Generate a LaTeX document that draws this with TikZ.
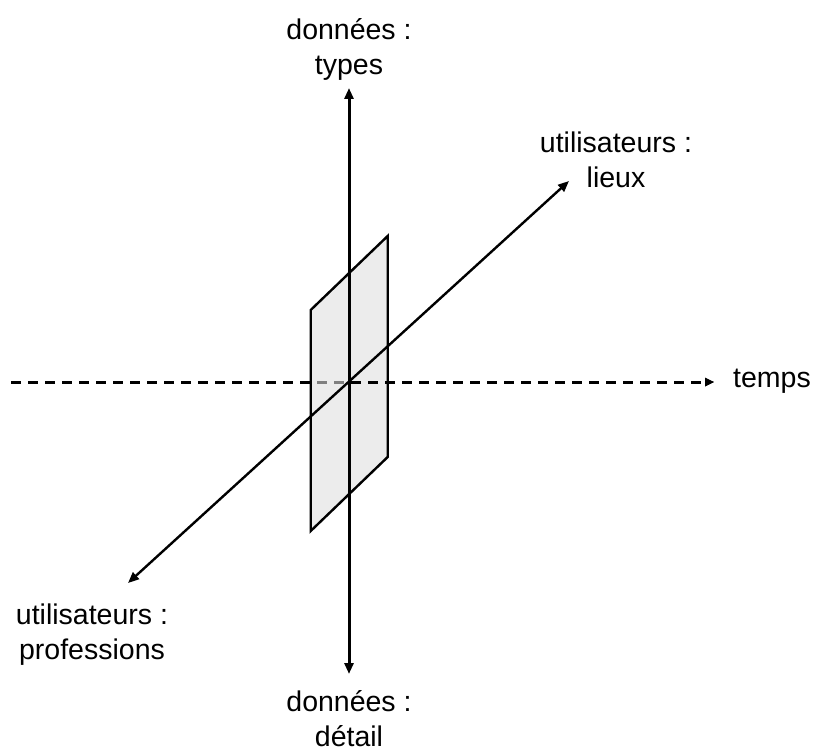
\documentclass[tikz,border=0pt]{standalone}
\usepackage{fontspec}
\setmainfont{Liberation Sans}
\usetikzlibrary{arrows.meta}
\tikzset{
  axe/.style={line width=3pt,{Triangle[length=11pt,width=9pt]}-{Triangle[length=11pt,width=9pt]}},
  diag/.style={line width=2.4pt,{Triangle[length=11pt,width=9pt]}-{Triangle[length=11pt,width=9pt]}},
  tempsaxe/.style={line width=3pt,dash pattern=on 10pt off 7pt,-{Triangle[length=9pt,width=8pt]}},
  plan/.style={draw=black,line width=2.4pt,line join=miter},
  lbl/.style={font=\fontsize{28.5}{35}\selectfont,align=center,inner sep=0pt}
}
\begin{document}
\begin{tikzpicture}[x=1pt,y=-1pt]
      \useasboundingbox (0,0) rectangle (816,749);
      \coordinate (o) at (349,382);
      \coordinate (haut) at (349,88);
      \coordinate (bas) at (349,674);
      \coordinate (gauche) at (11,382);
      \coordinate (droite) at (714,382);
      \coordinate (lieux) at (569,181);
      \coordinate (prof) at (128,583);
      \coordinate (p1) at (310.7,310);
      \coordinate (p2) at (387.7,236);
      \coordinate (p3) at (387.7,457);
      \coordinate (p4) at (310.7,531);
      \draw[tempsaxe] (gauche) -- (droite);
      \fill[gray!15] (p1) -- (p2) -- (p3) -- (p4) -- cycle;
      \begin{scope}
        \clip (p1) -- (p2) -- (p3) -- (p4) -- cycle;
        \draw[tempsaxe,black!50] (gauche) -- (droite);
      \end{scope}
      \begin{scope}
        \clip (349,0) rectangle (816,749);
        \draw[tempsaxe] (gauche) -- (droite);
      \end{scope}
      \draw[plan] (p1) -- (p2) -- (p3) -- (p4) -- cycle;
      \draw[axe] (bas) -- (haut);
      \draw[diag] (prof) -- (lieux);
      \node[lbl,anchor=north] (types) at (349,18) {données :\\types};
      \node[lbl,anchor=north] (detail) at (349,690) {données :\\détail};
      \node[lbl,anchor=north] (ulieux) at (616,132) {utilisateurs :\\lieux};
      \node[lbl,anchor=north] (uprof) at (92,604) {utilisateurs :\\professions};
      \node[lbl,anchor=base west] (temps) at (733,387) {temps};
    \end{tikzpicture}
\end{document}
